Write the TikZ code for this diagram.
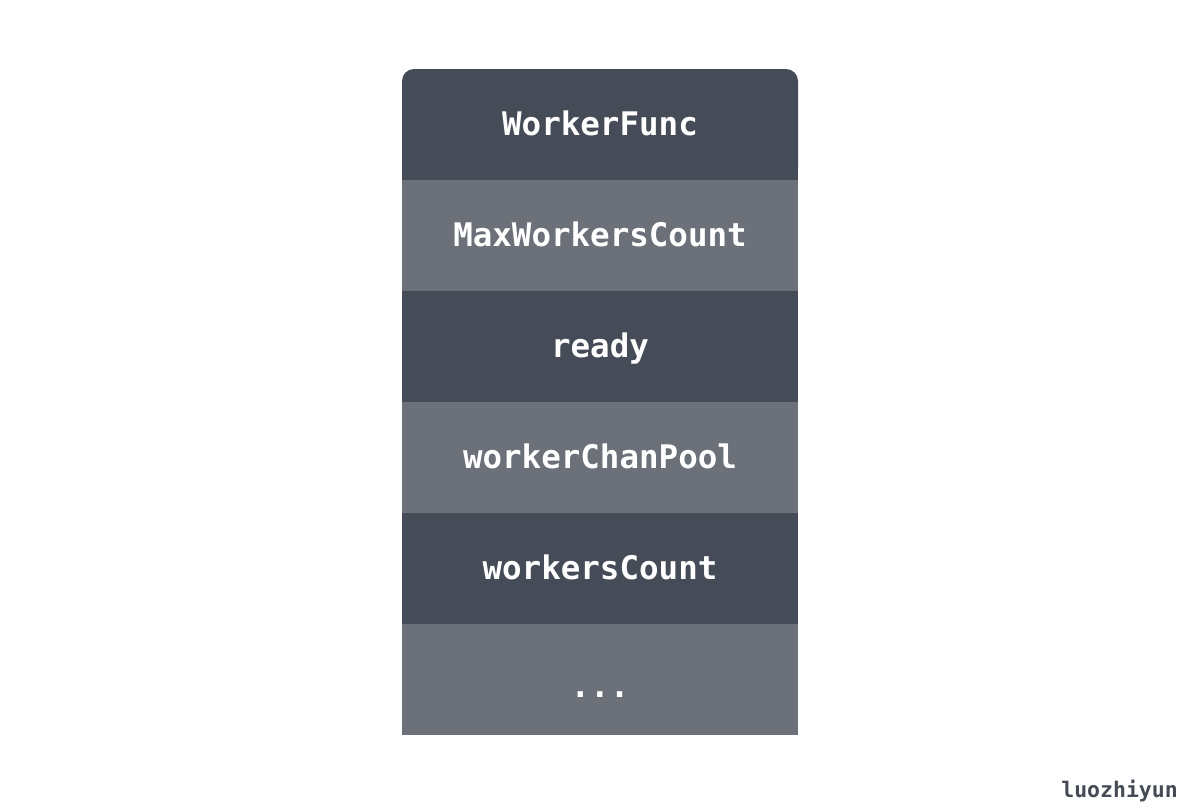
\documentclass[tikz,border=0pt]{standalone}
\usepackage{fontspec}
\newfontfamily\monob[BoldFont={DejaVu Sans Mono Bold}]{DejaVu Sans Mono}
\definecolor{darkrow}{HTML}{464C57}
\definecolor{lightrow}{HTML}{6B7079}
\definecolor{signc}{HTML}{454B55}
\begin{document}
\begin{tikzpicture}[x=1pt,y=-1pt,
  rowtext/.style={anchor=base,text=white,font=\monob\bfseries\fontsize{32.5}{32.5}\selectfont,inner sep=0pt}]
\useasboundingbox (0,0) rectangle (1200,807);
\fill[white] (0,0) rectangle (1200,807);
\fill[darkrow,rounded corners=12pt] (402,69) rectangle (798,180);
\fill[darkrow] (402,110) rectangle (798,180);
\fill[lightrow] (402,180) rectangle (798,291);
\fill[darkrow] (402,291) rectangle (798,402);
\fill[lightrow] (402,402) rectangle (798,513);
\fill[darkrow] (402,513) rectangle (798,624);
\fill[lightrow] (402,624) rectangle (798,735);
\node[rowtext] (r1) at (600,135) {WorkerFunc};
\node[rowtext] (r2) at (600,246) {MaxWorkersCount};
\node[rowtext] (r3) at (600,357) {ready};
\node[rowtext] (r4) at (600,468) {workerChanPool};
\node[rowtext] (r5) at (600,579) {workersCount};
\node[rowtext] (r6) at (600,697) {...};
\node[anchor=base east,inner sep=0pt,text=signc,font=\monob\bfseries\fontsize{21.5}{21.5}\selectfont] (sig) at (1178,797) {luozhiyun};
\end{tikzpicture}
\end{document}
